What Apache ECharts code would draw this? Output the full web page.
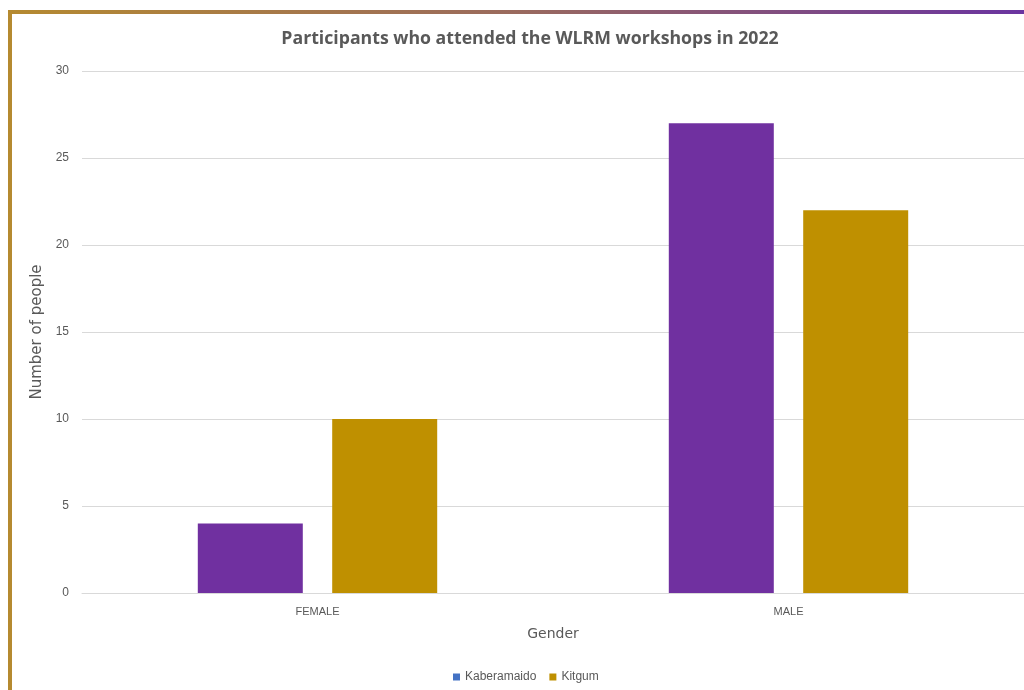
<!DOCTYPE html>
<html><head><meta charset="utf-8">
<script src="https://cdn.jsdelivr.net/npm/echarts@6/dist/echarts.min.js"></script>
<style>html,body{margin:0;padding:0;background:#fff}#c{width:1024px;height:690px}</style>
</head><body><div id="c"></div>
<script>
const categories = ['FEMALE', 'MALE'];
const kaberamaido = [4, 27];
const kitgum = [10, 22];
const yTicks = [0, 5, 10, 15, 20, 25, 30];

const chart = echarts.init(document.getElementById('c'));
chart.setOption({
  animation: false,
  backgroundColor: '#fff',
  title: {
    text: 'Participants who attended the WLRM workshops in 2022',
    left: 525, top: 25, textAlign: 'center',
    textStyle: {fontFamily: 'Open Sans', fontWeight: 'bold', fontSize: 17.7, color: '#595959'}
  },
  graphic: [
    {type: 'rect', shape: {x: 8, y: 10, width: 1016, height: 4}, style: {fill: new echarts.graphic.LinearGradient(0, 0, 1, 0, [{offset: 0, color: '#B58A30'}, {offset: 0.5, color: '#9A6A5E'}, {offset: 1, color: '#6A34A0'}])}, z: 10},
    {type: 'rect', shape: {x: 8, y: 10, width: 4, height: 680}, style: {fill: '#B58A30'}, z: 10}
  ],
  legend: {
    bottom: 2, left: 448,
    itemWidth: 7, itemHeight: 7, itemGap: 13, itemTextGap: 5,
    icon: 'rect',
    textStyle: {fontFamily: 'Liberation Sans', fontSize: 12, color: '#595959'},
    data: [{name: 'Kaberamaido', itemStyle: {color: '#4472C4'}}, {name: 'Kitgum', itemStyle: {color: '#BF9000'}}]
  },
  grid: {left: 82, right: 0, top: 71, bottom: 97},
  xAxis: {
    type: 'category', data: categories,
    name: 'Gender', nameLocation: 'middle', nameGap: 34,
    nameTextStyle: {fontFamily: 'DejaVu Sans', fontSize: 14, color: '#595959'},
    axisLine: {lineStyle: {color: '#d9d9d9'}},
    axisTick: {show: false},
    axisLabel: {fontFamily: 'Liberation Sans', fontSize: 11, color: '#595959', margin: 13}
  },
  yAxis: {
    type: 'value', min: 0, max: 30, interval: 5,
    name: 'Number of people', nameLocation: 'middle', nameGap: 27,
    nameTextStyle: {fontFamily: 'DejaVu Sans', fontSize: 15, color: '#595959'},
    axisLine: {show: false}, axisTick: {show: false},
    splitLine: {lineStyle: {color: '#d9d9d9'}},
    axisLabel: {fontFamily: 'Liberation Sans', fontSize: 12, color: '#595959', margin: 13,
      formatter: v => yTicks.includes(v) ? String(v) : ''}
  },
  series: [
    {name: 'Kaberamaido', type: 'bar', data: kaberamaido, barWidth: 105, barGap: '28%', itemStyle: {color: '#7030A0'}},
    {name: 'Kitgum', type: 'bar', data: kitgum, barWidth: 105, itemStyle: {color: '#BF9000'}}
  ]
});
</script></body></html>
